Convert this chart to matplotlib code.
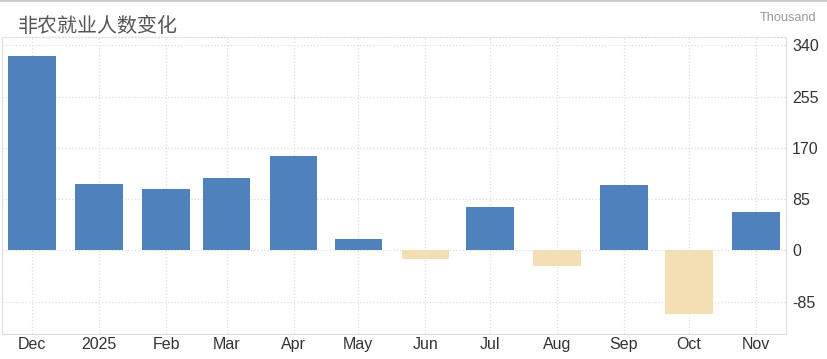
import datetime as dt
import matplotlib.pyplot as plt

plt.rcParams['font.family'] = ['Liberation Sans', 'DejaVu Sans']

months = ["2024-12", "2025-01", "2025-02", "2025-03", "2025-04", "2025-05",
          "2025-06", "2025-07", "2025-08", "2025-09", "2025-10", "2025-11"]
labels = ["Dec", "2025", "Feb", "Mar", "Apr", "May",
          "Jun", "Jul", "Aug", "Sep", "Oct", "Nov"]
values = [323, 110, 102, 120, 157, 19, -14, 72, -26, 108, -105, 64]
yticks = [340, 255, 170, 85, 0, -85]

dates = [dt.datetime.strptime(m, "%Y-%m") for m in months]
colors = ["#4f81bd" if v >= 0 else "#f4deb4" for v in values]

fig = plt.figure(figsize=(8.27, 3.59), dpi=100)
ax = fig.add_axes([0.0024, 0.0696, 0.948, 0.8273])

ax.bar(dates, values, width=22, color=colors, zorder=3)

ax.set_xlim(dt.datetime(2024, 11, 17), dt.datetime(2025, 11, 15))
ax.set_ylim(-138.5, 354)

ax.set_xticks(dates)
ax.set_xticklabels(labels)
ax.yaxis.tick_right()
ax.set_yticks(yticks)
ax.set_yticklabels([str(t) for t in yticks])
ax.tick_params(axis="both", length=0, labelsize=11.5, colors="#333333")
ax.tick_params(axis="y", pad=4.5)
ax.tick_params(axis="x", pad=2.5)
for lab in ax.get_yticklabels():
    lab.set_verticalalignment("center_baseline")

ax.grid(True, color="#dddddd", linestyle=":", linewidth=0.9, zorder=0)

for side in ["left", "bottom", "right"]:
    ax.spines[side].set_color("#dddddd")
ax.spines["top"].set_color("#dddddd")
ax.spines["top"].set_linestyle(":")
ax.spines["top"].set_linewidth(0.9)

fig.text(0.022, 0.925, "非农就业人数变化", fontsize=14.4, color="#555555",
         family=["Noto Sans CJK SC", "DejaVu Sans"], va="center")
fig.text(0.987, 0.95, "Thousand", fontsize=9.2, color="#999999",
         ha="right", va="center")
fig.add_artist(plt.Line2D([0, 1], [0.997, 0.997], color="#cccccc", linewidth=1.5,
                          transform=fig.transFigure))

fig.savefig("out.png", dpi=100)
